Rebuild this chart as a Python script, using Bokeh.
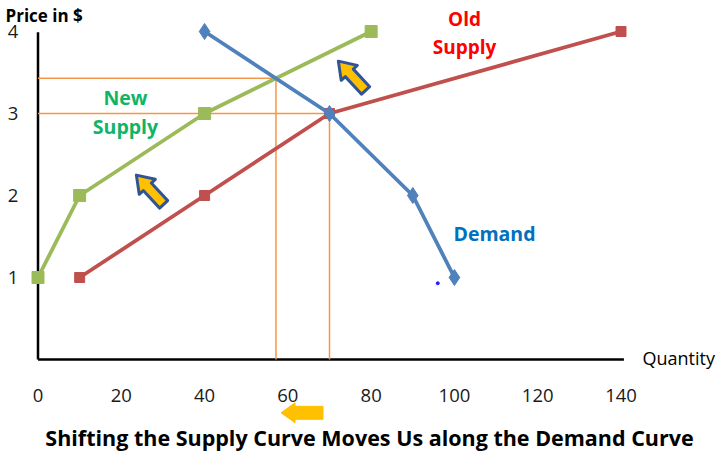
import math
from bokeh.plotting import figure
from bokeh.models import Range1d
from bokeh.core.properties import value
from bokeh.embed import file_html
from bokeh.resources import INLINE

# ---- data ----
demand_q = [40, 70, 90, 100]
demand_p = [4, 3, 2, 1]
old_q = [10, 40, 70, 140]
old_p = [1, 2, 3, 4]
new_q = [0, 10, 40, 80]
new_p = [1, 2, 3, 4]
x_ticks = [0, 20, 40, 60, 80, 100, 120, 140]
y_ticks = [1, 2, 3, 4]

# annotation anchors (data units)
shift_arrows_x = [26.9, 75.4]
shift_arrows_y = [2.07, 3.46]
move_arrow_x = [63.4]
move_arrow_y = [-0.65]
stray_x = [96.0]
stray_y = [0.93]

# ---- layout ----
W, H = 720, 456
PX_X = 583 / 140.0
PX_Y = 82.0
X0, Y0 = 37.5, 359  # pixel location of data origin inside the figure

p = figure(width=W, height=H,
           x_range=Range1d(-X0 / PX_X, (W - X0) / PX_X),
           y_range=Range1d(-(H - Y0) / PX_Y, Y0 / PX_Y),
           output_backend="svg", toolbar_location=None,
           x_axis_location=None, y_axis_location=None, min_border=0)
p.outline_line_color = None
p.grid.visible = False
p.background_fill_color = "white"
p.border_fill_color = "white"

FONT = value("Open Sans")


def intersect(ax, ay, bx, by):
    for i in range(len(ax) - 1):
        for j in range(len(bx) - 1):
            x1, y1, x2, y2 = ax[i], ay[i], ax[i + 1], ay[i + 1]
            x3, y3, x4, y4 = bx[j], by[j], bx[j + 1], by[j + 1]
            d = (x1 - x2) * (y3 - y4) - (y1 - y2) * (x3 - x4)
            if d == 0:
                continue
            t = ((x1 - x3) * (y3 - y4) - (y1 - y3) * (x3 - x4)) / d
            u = -((x1 - x2) * (y1 - y3) - (y1 - y2) * (x1 - x3)) / d
            if 0 <= t <= 1 and 0 <= u <= 1:
                return x1 + t * (x2 - x1), y1 + t * (y2 - y1)
    return None


eq_old = intersect(old_q, old_p, demand_q, demand_p)
eq_new = intersect(new_q, new_p, demand_q, demand_p)

# axes lines
p.segment(x0=[0, 0], y0=[0, 0], x1=[140.7, 0], y1=[0, 3.99], line_color="black", line_width=2.5)

# guide lines
ORANGE = "#f79646"
for (ex, ey) in [eq_old, eq_new]:
    p.segment(x0=[0, ex], y0=[ey, 0], x1=[ex, ex], y1=[ey, ey], line_color=ORANGE, line_width=1.5)

# curves
BLUE, RED, GREEN = "#4f81bd", "#c0504d", "#9bbb59"
p.line(new_q, new_p, line_color=GREEN, line_width=3.8)
p.scatter(new_q, new_p, marker="square", size=12, color=GREEN)
p.line(old_q, old_p, line_color=RED, line_width=3.8)
p.scatter(old_q, old_p, marker="square", size=10, color=RED)
p.line(demand_q, demand_p, line_color=BLUE, line_width=3.8)
p.scatter(demand_q, demand_p, marker="diamond", size=16, color=BLUE)
p.scatter(stray_x, stray_y, marker="circle", size=3, color="#2020ff")


def block_arrow(cx, cy, ang, L, hl, hw, sw):
    pts = [(-L / 2, -sw), (L / 2 - hl, -sw), (L / 2 - hl, -hw), (L / 2, 0),
           (L / 2 - hl, hw), (L / 2 - hl, sw), (-L / 2, sw)]
    a = math.radians(ang)
    xs = [cx + (px * math.cos(a) - py * math.sin(a)) / PX_X for px, py in pts]
    ys = [cy + (px * math.sin(a) + py * math.cos(a)) / PX_Y for px, py in pts]
    return xs, ys


axs, ays = [], []
for cx, cy in zip(shift_arrows_x, shift_arrows_y):
    xs, ys = block_arrow(cx, cy, 133, 40, 16, 11, 5.5)
    axs.append(xs)
    ays.append(ys)
p.patches(axs, ays, fill_color="#ffc000", line_color="#2f5597", line_width=3, line_join="round")

bxs, bys = [], []
for cx, cy in zip(move_arrow_x, move_arrow_y):
    xs, ys = block_arrow(cx, cy, 180, 42, 14, 10, 6.5)
    bxs.append(xs)
    bys.append(ys)
p.patches(bxs, bys, fill_color="#ffc000", line_color="#ffc000", line_width=1)


def px2x(px):
    return (px - X0) / PX_X


def px2y(py):
    return (Y0 - py) / PX_Y


# tick labels
p.text(x=x_ticks, y=[px2y(395)] * len(x_ticks), text=[str(t) for t in x_ticks],
       text_align="center", text_baseline="middle", text_font=FONT, text_font_size="18.5px",
       text_color="#1a1a1a")
p.text(x=[px2x(12.5)] * len(y_ticks), y=y_ticks, text=[str(t) for t in y_ticks],
       text_align="center", text_baseline="middle", text_font=FONT, text_font_size="18.5px",
       text_color="#1a1a1a")

# axis titles
p.text(x=[px2x(5)], y=[px2y(15)], text=["Price in $"], text_align="left", text_baseline="middle",
       text_font=FONT, text_font_size="17px", text_font_style="bold", text_color="black")
p.text(x=[px2x(642)], y=[px2y(357)], text=["Quantity"], text_align="left", text_baseline="middle",
       text_font=FONT, text_font_size="18px", text_color="black")

# series labels
p.text(x=[px2x(125)] * 2, y=[px2y(97), px2y(126)], text=["New", "Supply"], text_align="center",
       text_baseline="middle", text_font=FONT, text_font_size="19.5px", text_font_style="bold",
       text_color="#0fb565")
p.text(x=[px2x(464)] * 2, y=[px2y(18), px2y(46)], text=["Old", "Supply"], text_align="center",
       text_baseline="middle", text_font=FONT, text_font_size="19px", text_font_style="bold",
       text_color="#ff0000")
p.text(x=[px2x(494)], y=[px2y(233)], text=["Demand"], text_align="center",
       text_baseline="middle", text_font=FONT, text_font_size="19.5px", text_font_style="bold",
       text_color="#0070c0")

# bottom caption
p.text(x=[px2x(369)], y=[px2y(437)], text=["Shifting the Supply Curve Moves Us along the Demand Curve"],
       text_align="center", text_baseline="middle", text_font=FONT, text_font_size="21.5px",
       text_font_style="bold", text_color="black")

open("out.html", "w").write(file_html(p, INLINE))
